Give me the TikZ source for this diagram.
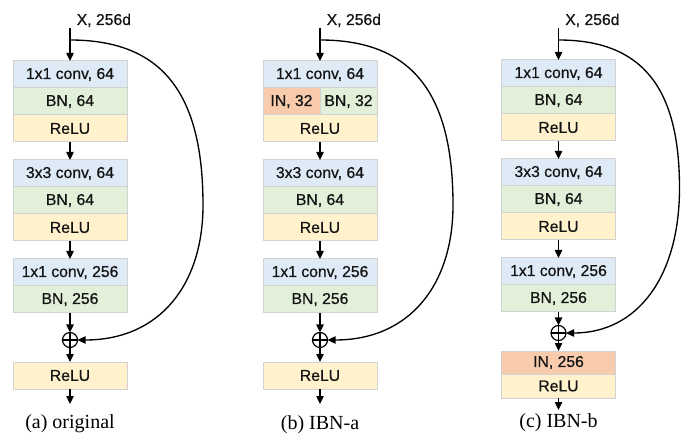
\documentclass[tikz,border=0pt]{standalone}
\usepackage{fontspec}
\setmainfont{Liberation Serif}
\setsansfont{Liberation Sans}
\newfontfamily\boxfont[FakeBold=0.6]{Liberation Sans}
\usetikzlibrary{arrows.meta}

\definecolor{convblue}{HTML}{DEEBF7}
\definecolor{bngreen}{HTML}{E2F0D9}
\definecolor{reluyellow}{HTML}{FFF2CC}
\definecolor{inorange}{HTML}{F8CBAD}
\definecolor{boxline}{HTML}{D2D2D2}
\definecolor{txt}{HTML}{141414}

\tikzset{
  blk/.style={draw=boxline, line width=0.75pt, inner sep=0pt, outer sep=0pt,
    minimum width=85.5pt, minimum height=20.25pt, anchor=north,
    font=\boxfont\fontsize{11.8}{12}\selectfont, text=txt},
  halfblk/.style={blk, minimum width=42.75pt},
  conv/.style={blk, fill=convblue},
  bn/.style={blk, fill=bngreen},
  relu/.style={blk, fill=reluyellow},
  inorm/.style={blk, fill=inorange},
  lbl/.style={font=\boxfont\fontsize{11.8}{12}\selectfont, text=txt, inner sep=0pt, anchor=base west},
  captext/.style={font=\fontsize{15}{16}\selectfont, inner sep=0pt, anchor=base},
  sum/.style={circle, draw, line width=0.9pt, minimum size=11.25pt, inner sep=0pt, outer sep=0pt,
    path picture={\draw[line width=0.9pt]
      (path picture bounding box.north) -- (path picture bounding box.south)
      (path picture bounding box.west) -- (path picture bounding box.east);}},
  arr/.style={line width=1pt, -{Triangle[length=6pt,width=5.5pt]}},
  skip/.style={line width=1pt, -{Triangle[length=6pt,width=5.5pt]}},
}

\begin{document}
\begin{tikzpicture}[x=0.75pt, y=-0.75pt]
\fill[white] (0,0) rectangle (681,441);
\useasboundingbox (0,0) rectangle (681,441);

% ---------- (a) original ----------
\begin{scope}[shift={(70,0)}]
  \node[lbl] (a-x) at (6.5,25) {X, 256d};
  \coordinate (a-top) at (0,28);
  \coordinate (a-split) at (0,40);
  \node[conv] (a-c1) at (0,61) {1x1 conv, 64};
  \node[bn]   (a-b1) at (a-c1.south) {BN, 64};
  \node[relu] (a-r1) at (a-b1.south) {ReLU};
  \node[conv] (a-c2) at (0,160) {3x3 conv, 64};
  \node[bn]   (a-b2) at (a-c2.south) {BN, 64};
  \node[relu] (a-r2) at (a-b2.south) {ReLU};
  \node[conv] (a-c3) at (0,259) {1x1 conv, 256};
  \node[bn]   (a-b3) at (a-c3.south) {BN, 256};
  \node[sum]  (a-sum) at (0,340) {};
  \node[relu] (a-r3) at (0,362) {ReLU};
  \coordinate (a-out) at (0,404);
  \coordinate (a-far) at (133,205);
  \node[captext] (a-cap) at (0,428) {(a) original};
  \draw[arr] (a-top) -- (a-c1);
  \draw[arr] (a-r1) -- (a-c2);
  \draw[arr] (a-r2) -- (a-c3);
  \draw[arr] (a-b3) -- (a-sum);
  \draw[arr] (a-sum) -- (a-r3);
  \draw[arr] (a-r3) -- (a-out);
  \draw[skip] (a-split) .. controls +(92,0) and +(0,-112) .. (a-far)
              .. controls +(0,80) and +(82,0) .. (a-sum.east);
\end{scope}

% ---------- (b) IBN-a ----------
\begin{scope}[shift={(320,0)}]
  \node[lbl] (b-x) at (6.5,25) {X, 256d};
  \coordinate (b-top) at (0,28);
  \coordinate (b-split) at (0,40);
  \node[conv] (b-c1) at (0,61) {1x1 conv, 64};
  \node[halfblk, fill=inorange, anchor=north east] (b-in1) at (b-c1.south) {IN, 32};
  \node[halfblk, fill=bngreen, anchor=north west] (b-b1) at (b-c1.south) {BN, 32};
  \node[relu] (b-r1) at (b-c1.south |- b-in1.south) {ReLU};
  \node[conv] (b-c2) at (0,160) {3x3 conv, 64};
  \node[bn]   (b-b2) at (b-c2.south) {BN, 64};
  \node[relu] (b-r2) at (b-b2.south) {ReLU};
  \node[conv] (b-c3) at (0,259) {1x1 conv, 256};
  \node[bn]   (b-b3) at (b-c3.south) {BN, 256};
  \node[sum]  (b-sum) at (0,340) {};
  \node[relu] (b-r3) at (0,362) {ReLU};
  \coordinate (b-out) at (0,404);
  \coordinate (b-far) at (133,205);
  \node[captext] (b-cap) at (0,429) {(b) IBN-a};
  \draw[arr] (b-top) -- (b-c1);
  \draw[arr] (b-r1) -- (b-c2);
  \draw[arr] (b-r2) -- (b-c3);
  \draw[arr] (b-b3) -- (b-sum);
  \draw[arr] (b-sum) -- (b-r3);
  \draw[arr] (b-r3) -- (b-out);
  \draw[skip] (b-split) .. controls +(92,0) and +(0,-112) .. (b-far)
              .. controls +(0,80) and +(82,0) .. (b-sum.east);
\end{scope}

% ---------- (c) IBN-b ----------
\begin{scope}[shift={(558.5,0)}]
  \node[lbl] (c-x) at (6.5,25) {X, 256d};
  \coordinate (c-top) at (0,28);
  \coordinate (c-split) at (0,40);
  \node[conv] (c-c1) at (0,60) {1x1 conv, 64};
  \node[bn]   (c-b1) at (c-c1.south) {BN, 64};
  \node[relu] (c-r1) at (c-b1.south) {ReLU};
  \node[conv] (c-c2) at (0,159) {3x3 conv, 64};
  \node[bn]   (c-b2) at (c-c2.south) {BN, 64};
  \node[relu] (c-r2) at (c-b2.south) {ReLU};
  \node[conv] (c-c3) at (0,258) {1x1 conv, 256};
  \node[bn]   (c-b3) at (c-c3.south) {BN, 256};
  \node[sum]  (c-sum) at (0,333) {};
  \node[inorm, minimum height=17.25pt] (c-in) at (0,351) {IN, 256};
  \node[relu, minimum height=18pt] (c-r3) at (c-in.south) {ReLU};
  \coordinate (c-out) at (0,410);
  \coordinate (c-far) at (121,188);
  \node[captext] (c-cap) at (0,427) {(c) IBN-b};
  \draw[arr] (c-top) -- (c-c1);
  \draw[arr] (c-r1) -- (c-c2);
  \draw[arr] (c-r2) -- (c-c3);
  \draw[arr] (c-b3) -- (c-sum);
  \draw[arr] (c-sum) -- (c-in);
  \draw[arr] (c-r3) -- (c-out);
  \draw[skip] (c-split) .. controls +(84,0) and +(0,-100) .. (c-far)
              .. controls +(0,88) and +(72,0) .. (c-sum.east);
\end{scope}
\end{tikzpicture}
\end{document}
